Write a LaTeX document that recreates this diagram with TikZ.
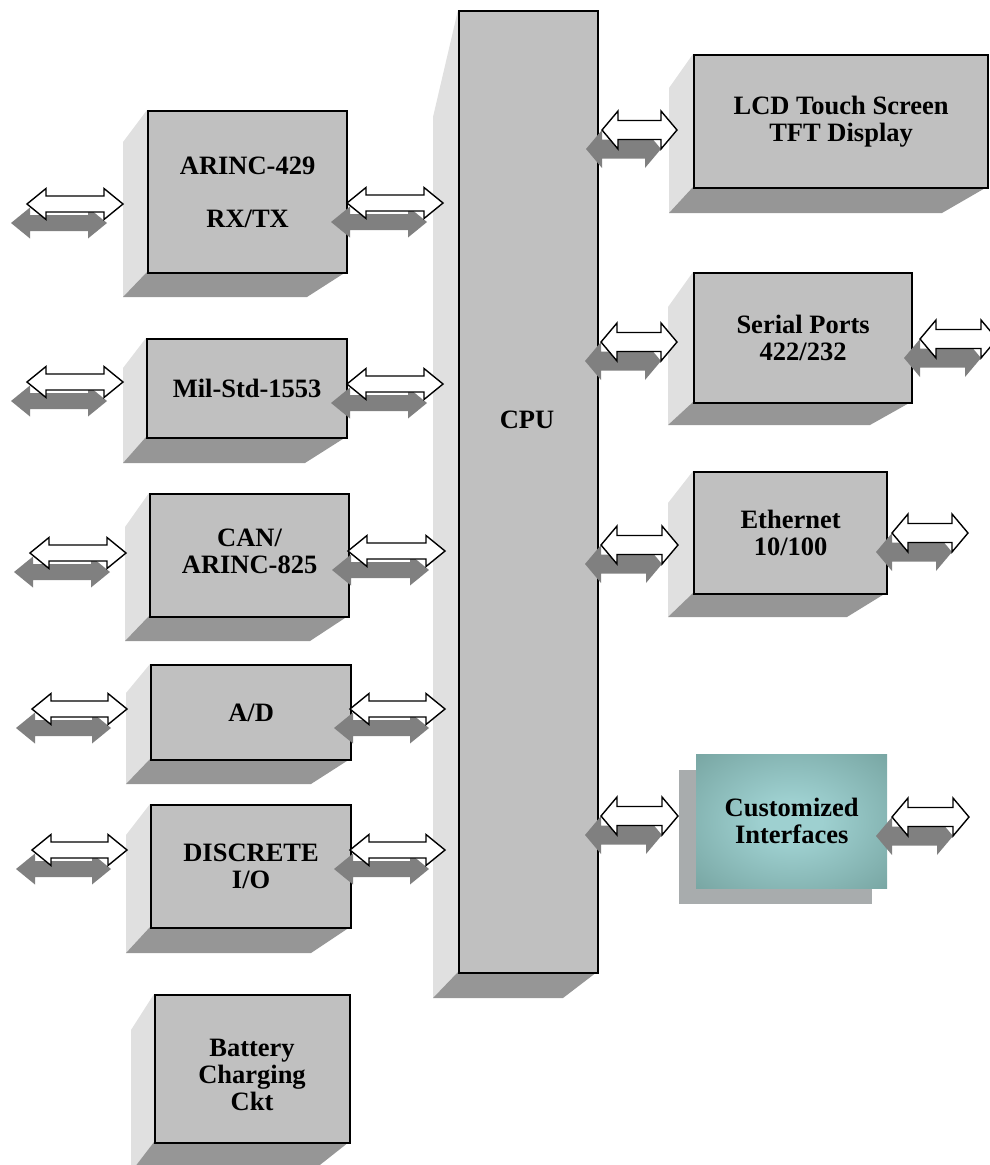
\documentclass[tikz,border=0pt]{standalone}
\usepackage{fontspec}
\setmainfont{Liberation Serif}
\definecolor{frontc}{RGB}{192,192,192}
\definecolor{sidel}{RGB}{224,224,224}
\definecolor{sideb}{RGB}{150,150,150}
\definecolor{ashadow}{RGB}{128,128,128}
\definecolor{tealin}{RGB}{158,208,208}
\definecolor{tealout}{RGB}{106,150,146}
\definecolor{tshadow}{RGB}{168,172,173}
\pgfdeclareradialshading{tealglow}{\pgfpoint{0bp}{0bp}}{color(0bp)=(tealin); color(8bp)=(tealin); color(46bp)=(tealout); color(75bp)=(tealout)}
\tikzset{
  frontbox/.style={draw=black, fill=frontc, line width=2.2, anchor=north west, inner sep=0, align=center,
    font=\fontsize{26.5}{27}\selectfont\bfseries},
  lbl/.style={inner sep=0, align=center, font=\fontsize{26.5}{27}\selectfont\bfseries},
  leftface/.style={fill=sidel},
  bottomface/.style={fill=sideb},
  arrowbody/.style={draw=black, fill=white, line width=1.4, line join=miter},
  arrowshade/.style={fill=ashadow}
}
% extrusion: x1 y1 x2 y2 backleftx backtopy backbottomy backrightx
\newcommand\extrude[8]{%
  \fill[leftface] (#1,#2) -- (#5,#6) -- (#5,#7) -- (#1,#4) -- cycle;
  \fill[bottomface] (#1,#4) -- (#5,#7) -- (#8,#7) -- (#3,#4) -- cycle;
}
% block double arrow: x1 x2 cy headlength headhalf shafthalf
\newcommand\blockarrow[6]{%
  \begin{scope}[shift={(-16,19)}]
  \fill[arrowshade] (#1,#3) -- ++(#4,-#5) -- ++(0,#5-#6) -- (#2-#4,#3-#6) -- ++(0,#6-#5) -- (#2,#3)
     -- ++(-#4,#5) -- ++(0,#6-#5) -- (#1+#4,#3+#6) -- ++(0,#5-#6) -- cycle;
  \end{scope}
  \draw[arrowbody] (#1,#3) -- ++(#4,-#5) -- ++(0,#5-#6) -- (#2-#4,#3-#6) -- ++(0,#6-#5) -- (#2,#3)
     -- ++(-#4,#5) -- ++(0,#6-#5) -- (#1+#4,#3+#6) -- ++(0,#5-#6) -- cycle;
}
\newcommand\bigarrow[3]{\blockarrow{#1}{#2}{#3}{19}{15.5}{8}}
\newcommand\smallarrow[3]{\blockarrow{#1}{#2}{#3}{16}{19}{9.5}}
\begin{document}
\begin{tikzpicture}[x=1pt,y=-1pt]
\useasboundingbox (0,0) rectangle (989,1165);
% ---- left column boxes
\extrude{147}{110}{346}{272}{123}{142}{297}{307}
\node[frontbox, minimum width=199, minimum height=162] (arinc) at (147,110) {ARINC-429\\[26pt]RX/TX};
\extrude{146}{338}{346}{437}{123}{368}{463}{305}
\node[frontbox, minimum width=200, minimum height=99] (mil) at (146,338) {Mil-Std-1553};
\extrude{149}{493}{348}{616}{125}{527}{641}{310}
\node[frontbox, minimum width=199, minimum height=123, text depth=8] (can) at (149,493) {CAN/\\ARINC-825};
\extrude{150}{664}{350}{759}{126}{693}{784}{311}
\node[frontbox, minimum width=200, minimum height=95] (ad) at (150,664) {A/D};
\extrude{150}{804}{350}{927}{126}{835}{953}{311}
\node[frontbox, minimum width=200, minimum height=123] (discrete) at (150,804) {DISCRETE\\I/O};
\extrude{154}{994}{349}{1142}{131}{1030}{1172}{311}
\node[frontbox, minimum width=195, minimum height=148] (battery) at (154,994) {};
\node[lbl] (batterytext) at (252,1075) {Battery\\Charging\\Ckt};
% ---- CPU
\extrude{458}{10}{597}{972}{433}{117}{998}{563}
\node[frontbox, minimum width=139, minimum height=962] (cpu) at (458,10) {};
\node[lbl] (cputext) at (527,420) {CPU};
% ---- right column boxes
\extrude{693}{54}{987}{187}{669}{88}{213}{942}
\node[frontbox, minimum width=294, minimum height=133] (lcd) at (693,54) {LCD Touch Screen\\TFT Display};
\extrude{693}{272}{911}{402}{668}{307}{425}{870}
\node[frontbox, minimum width=218, minimum height=130] (serial) at (693,272) {Serial Ports\\422/232};
\extrude{693}{471}{886}{593}{668}{503}{617}{847}
\node[frontbox, minimum width=193, minimum height=122] (eth) at (693,471) {Ethernet\\10/100};
% ---- customized interfaces
\fill[tshadow] (679,770) rectangle (872,904);
\node[lbl, anchor=north west, minimum width=191, minimum height=134, shading=tealglow] (custom) at (696,754) {Customized\\Interfaces};
% ---- arrows, left column outer
\bigarrow{27}{123}{204}
\bigarrow{27}{123}{382}
\bigarrow{30}{126}{553}
\bigarrow{32}{127}{709}
\bigarrow{32}{127}{850}
% ---- arrows, left column to CPU
\bigarrow{347}{443}{203}
\bigarrow{347}{443}{384}
\bigarrow{348}{445}{551}
\bigarrow{350}{445}{709}
\bigarrow{350}{445}{850}
% ---- arrows, CPU to right column
\smallarrow{602}{677}{130}
\smallarrow{601}{677}{342}
\smallarrow{601}{678}{545}
\smallarrow{601}{678}{816}
% ---- arrows, right column outer
\smallarrow{920}{997}{339}
\smallarrow{892}{968}{533}
\smallarrow{892}{969}{817}
\end{tikzpicture}
\end{document}
